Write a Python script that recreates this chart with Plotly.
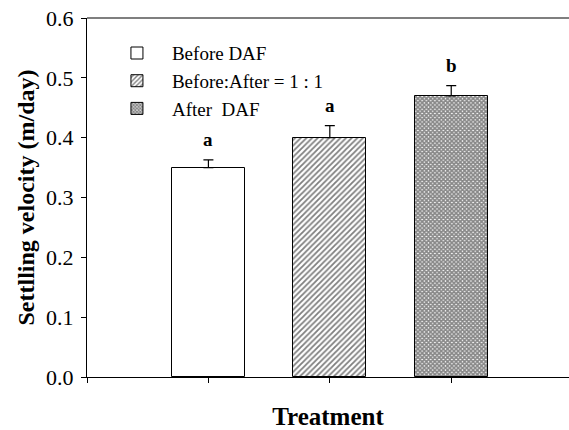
import plotly.graph_objects as go

# Treatment groups and settling velocity results
treatments = ["Before DAF", "Before:After = 1 : 1", "After  DAF"]
positions = [1, 2, 3]
velocity = [0.35, 0.40, 0.47]
velocity_err = [0.013, 0.020, 0.017]
group_letters = ["a", "a", "b"]

y_ticks = [0.0, 0.1, 0.2, 0.3, 0.4, 0.5, 0.6]
x_ticks = [0, 1, 2, 3]

patterns = [
    dict(shape=""),
    dict(shape="/", size=4, solidity=0.45, fgcolor="black", bgcolor="white"),
    dict(shape="x", size=3, solidity=0.8, fgcolor="#111", bgcolor="white"),
]

serif = "Liberation Serif, Times New Roman, serif"

fig = go.Figure()
for i, name in enumerate(treatments):
    fig.add_trace(go.Bar(
        x=[positions[i]],
        y=[velocity[i]],
        name=name,
        width=0.6,
        marker=dict(color="white", line=dict(color="black", width=1),
                    pattern=patterns[i]),
        error_y=dict(type="data", symmetric=False, array=[velocity_err[i]],
                     arrayminus=[0], color="black", thickness=1.2, width=5),
    ))

for p, v, e, letter in zip(positions, velocity, velocity_err, group_letters):
    fig.add_annotation(x=p, y=v + e, text=f"<b>{letter}</b>", showarrow=False,
                       yanchor="bottom", yshift=8,
                       font=dict(family=serif, size=19, color="black"))

fig.update_layout(
    width=569, height=430,
    margin=dict(l=87, r=0, t=18, b=53),
    plot_bgcolor="white", paper_bgcolor="white",
    font=dict(family=serif, size=21, color="black"),
    bargap=0,
    showlegend=True,
    legend=dict(x=0.031, y=0.955, xanchor="left", yanchor="top",
                bgcolor="rgba(0,0,0,0)", font=dict(family=serif, size=19),
                itemwidth=60, tracegroupgap=0),
    xaxis=dict(range=[0, 3.97], tickvals=x_ticks, ticktext=["", "", "", ""],
               ticks="outside", ticklen=5, tickcolor="black",
               showline=True, linecolor="black", linewidth=1.2,
               showgrid=False, zeroline=False, mirror=False,
               title=dict(text="<b>Treatment</b>", standoff=26,
                          font=dict(family=serif, size=25))),
    yaxis=dict(range=[0, 0.6], tickvals=y_ticks,
               ticktext=[f"{t:.1f}" for t in y_ticks],
               tickfont=dict(family=serif, size=22),
               ticklabelstandoff=3,
               ticks="outside", ticklen=5, tickcolor="black",
               showline=True, linecolor="black", linewidth=1.2,
               showgrid=False, zeroline=False,
               title=dict(text="<b>Settlling velocity (m/day)</b>", standoff=4,
                          font=dict(family=serif, size=24))),
)

# top frame line across the plot
fig.add_shape(type="line", xref="paper", yref="paper", x0=0, x1=1, y0=1, y1=1,
              line=dict(color="black", width=1.2))

fig.write_html("out.html")
